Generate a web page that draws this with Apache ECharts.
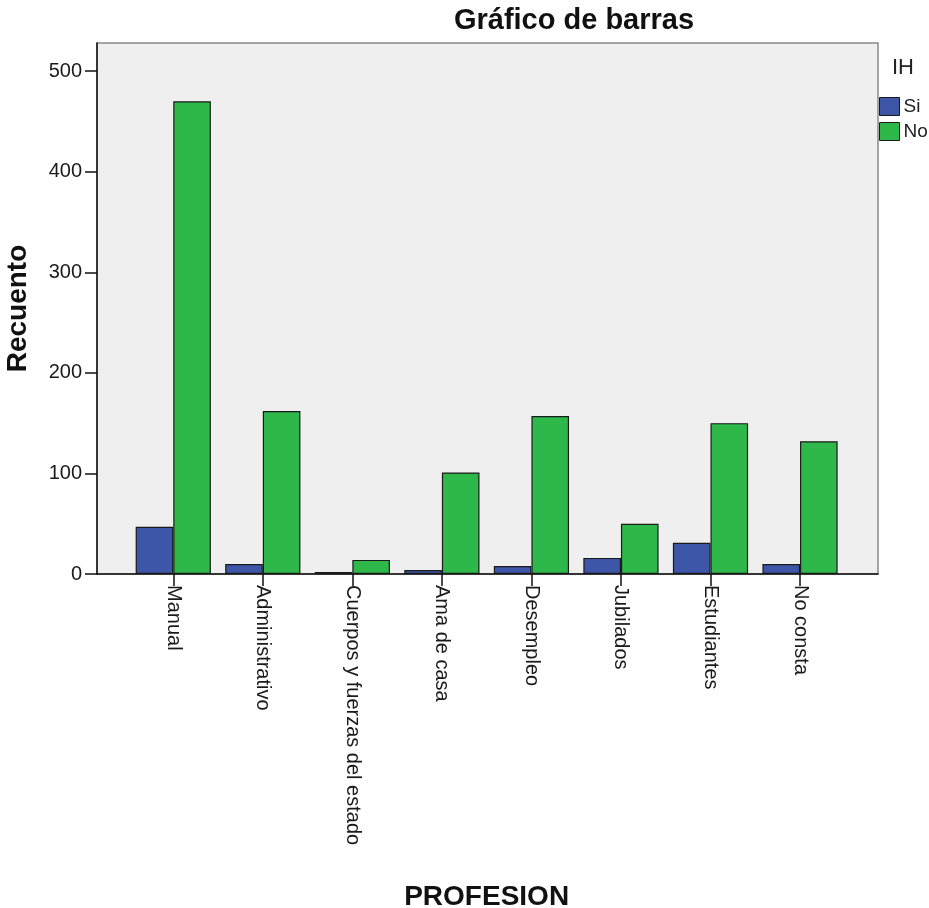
<!DOCTYPE html>
<html>
<head>
<meta charset="utf-8">
<script src="https://cdn.jsdelivr.net/npm/echarts@6/dist/echarts.min.js"></script>
<style>
    html, body { margin: 0; padding: 0; background: #fff; }
    #chart { width: 929px; height: 908px; }
</style>
</head>
<body>
<div id="chart"></div>
<script>
    // PROFESION categories and counts per IH group
    const categories = ['Manual', 'Administrativo', 'Cuerpos y fuerzas del estado', 'Ama de casa',
        'Desempleo', 'Jubilados', 'Estudiantes', 'No consta'];
    const si_values = [47, 10, 2, 4, 8, 16, 31, 10];
    const no_values = [470, 162, 14, 101, 157, 50, 150, 132];
    const legend_names = ['Si', 'No'];
    const y_tick_values = [0, 100, 200, 300, 400, 500];

    const font = '"Liberation Sans", Arial, sans-serif';
    const siColor = '#3d56a8';
    const noColor = '#2eb84a';

    let chart = echarts.init(document.getElementById('chart'), null, {renderer: 'canvas'});

    chart.setOption({
        animation: false,
        title: [
            {
                text: 'Gráfico de barras',
                left: 574,
                top: 6,
                textAlign: 'center',
                padding: 0,
                textStyle: {fontFamily: font, fontWeight: 'bold', fontSize: 29, color: '#111'}
            },
            {
                text: 'IH',
                left: 892,
                top: 57,
                padding: 0,
                textStyle: {fontFamily: font, fontWeight: 'normal', fontSize: 22, color: '#222'}
            }
        ],
        legend: {
            data: legend_names,
            orient: 'vertical',
            left: 879,
            top: 97,
            padding: 0,
            itemWidth: 20,
            itemHeight: 18,
            itemGap: 6,
            icon: 'rect',
            itemStyle: {borderColor: '#1a1a1a', borderWidth: 1},
            textStyle: {fontFamily: font, fontSize: 19, color: '#222', padding: [0, 0, 0, -1]}
        },
        grid: [
            // frame / background
            {
                left: 97, right: 51, top: 43, bottom: 334,
                outerBoundsMode: 'none',
                show: true, backgroundColor: '#efefef',
                borderColor: '#8a8a8a', borderWidth: 1.5
            },
            // bars (categories inset from the frame)
            {left: 128.5, right: 84.2, top: 43, bottom: 334, outerBoundsMode: 'none'}
        ],
        xAxis: [
            {
                type: 'value', gridIndex: 0, min: 0, max: 1,
                axisLine: {show: true, onZero: false, lineStyle: {color: '#111', width: 1.5}},
                axisTick: {show: false}, axisLabel: {show: false}, splitLine: {show: false}
            },
            {
                type: 'category', gridIndex: 1, data: categories,
                name: 'PROFESION', nameLocation: 'middle', nameGap: 309,
                nameTextStyle: {fontFamily: font, fontWeight: 'bold', fontSize: 28, color: '#111'},
                axisLine: {show: false},
                axisTick: {show: true, alignWithLabel: true, length: 12, lineStyle: {color: '#111', width: 1.5}},
                axisLabel: {
                    rotate: -90, margin: 11, interval: 0,
                    fontFamily: font, fontSize: 20, color: '#1a1a1a'
                },
                splitLine: {show: false}
            }
        ],
        yAxis: [
            {
                type: 'value', gridIndex: 0, min: 0, max: 528, interval: 100,
                name: 'Recuento', nameLocation: 'middle', nameRotate: 90, nameGap: 65,
                nameTextStyle: {fontFamily: font, fontWeight: 'bold', fontSize: 28, color: '#111'},
                axisLine: {show: true, lineStyle: {color: '#111', width: 1.5}},
                axisTick: {show: true, length: 12, lineStyle: {color: '#111', width: 1.5},
                    customValues: y_tick_values},
                axisLabel: {
                    margin: 15, fontFamily: font, fontSize: 20, color: '#1a1a1a',
                    customValues: y_tick_values
                },
                splitLine: {show: false}
            },
            {
                type: 'value', gridIndex: 1, min: 0, max: 528,
                show: false, splitLine: {show: false}
            }
        ],
        series: [
            {
                name: 'Si', type: 'bar', xAxisIndex: 1, yAxisIndex: 1,
                data: si_values,
                barGap: '0%', barCategoryGap: '16%',
                itemStyle: {color: siColor, borderColor: '#1a1a1a', borderWidth: 1.2}
            },
            {
                name: 'No', type: 'bar', xAxisIndex: 1, yAxisIndex: 1,
                data: no_values,
                barGap: '0%', barCategoryGap: '16%',
                itemStyle: {color: noColor, borderColor: '#1a1a1a', borderWidth: 1.2}
            }
        ]
    });
</script>
</body>
</html>
